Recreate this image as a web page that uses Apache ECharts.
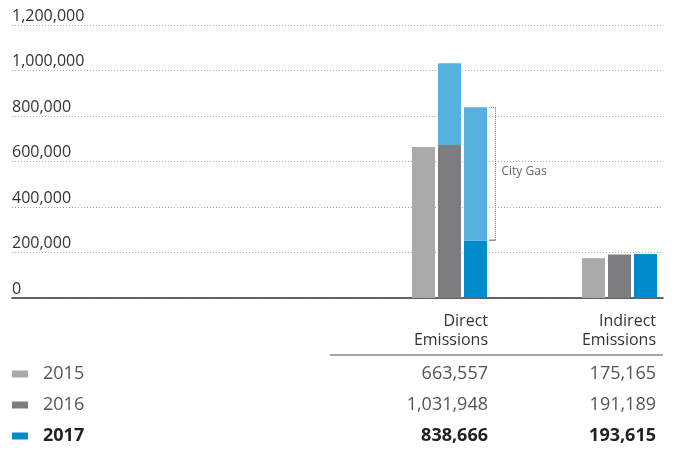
<!DOCTYPE html>
<html>
<head>
<meta charset="utf-8">
<script src="https://cdn.jsdelivr.net/npm/echarts@6/dist/echarts.min.js"></script>
<style>
html,body{margin:0;padding:0;background:#fff;}
#c{width:676px;height:452px;}
</style>
</head>
<body>
<div id="c"></div>
<script>
// ---- data ----
var categories = ['Direct Emissions', 'Indirect Emissions'];
var headerLabels = [['Direct', 'Emissions'], ['Indirect', 'Emissions']];
var years = ['2015', '2016', '2017'];
var directTotal = [663557, 1031948, 838666];
var indirect = [175165, 191189, 193615];
// direct emissions excluding city gas
var directNonGas = [663557, 672000, 252000];
var yTicks = [0, 200000, 400000, 600000, 800000, 1000000, 1200000];
var annotationLabel = 'City Gas';

var cityGas = directTotal.map(function (t, i) { return t - directNonGas[i]; });

var C15 = '#aaaaab', C16 = '#7d7d7f', C17 = '#008bcb', CGAS = '#56b1de';
var FONT = "'Open Sans', sans-serif";

var chart = echarts.init(document.getElementById('c'), null, {renderer: 'canvas'});

function fmt(v) { return v.toLocaleString('en-US'); }

var yMin = yTicks[0], yMax = yTicks[yTicks.length - 1], yInt = yTicks[1] - yTicks[0];

var barCommon = {type: 'bar', xAxisIndex: 1, yAxisIndex: 1, barWidth: 23, barGap: '13%', clip: false};

var option = {
  animation: false,
  backgroundColor: '#fff',
  grid: [
    {left: 12, right: 13, top: 25, bottom: 154, containLabel: false},
    {left: 449.5, right: 56.5, top: 25, bottom: 154, containLabel: false}
  ],
  xAxis: [
    {gridIndex: 0, type: 'value', min: 0, max: 1,
     axisLine: {show: true, lineStyle: {color: '#333', width: 1.5}},
     axisTick: {show: false}, axisLabel: {show: false}, splitLine: {show: false}},
    {gridIndex: 1, type: 'category', data: categories, boundaryGap: false,
     axisLine: {show: false}, axisTick: {show: false}, axisLabel: {show: false}, splitLine: {show: false}}
  ],
  yAxis: [
    {gridIndex: 0, type: 'value', min: yMin, max: yMax, interval: yInt,
     axisLine: {show: false}, axisTick: {show: false},
     axisLabel: {inside: true, margin: 0, align: 'left', verticalAlign: 'bottom',
       padding: [0, 0, 1, 0],
       fontFamily: FONT, fontSize: 16, color: '#333',
       formatter: function (v) { return fmt(v); }},
     splitLine: {show: true, lineStyle: {color: '#a8a8a8', type: [1, 2], width: 1}}},
    {gridIndex: 1, type: 'value', min: yMin, max: yMax, interval: yInt, show: false,
     splitLine: {show: false}}
  ],
  series: [
    Object.assign({name: '2015', stack: 's15', itemStyle: {color: C15},
     data: [directNonGas[0], indirect[0]]}, barCommon),
    Object.assign({name: '2016', stack: 's16', itemStyle: {color: C16},
     data: [directNonGas[1], indirect[1]]}, barCommon),
    Object.assign({name: '2016 City Gas', stack: 's16', itemStyle: {color: CGAS},
     data: [cityGas[1], null]}, barCommon),
    Object.assign({name: '2017', stack: 's17', itemStyle: {color: C17},
     data: [directNonGas[2], indirect[2]]}, barCommon),
    Object.assign({name: '2017 City Gas', stack: 's17', itemStyle: {color: CGAS},
     data: [cityGas[2], null]}, barCommon)
  ]
};
chart.setOption(option);

// ---- annotation & table (positions derived from the chart's scales) ----
var g = [];
var cx0 = chart.convertToPixel({xAxisIndex: 1, yAxisIndex: 1}, [categories[0], 0])[0];
var cx1 = chart.convertToPixel({xAxisIndex: 1, yAxisIndex: 1}, [categories[1], 0])[0];
var half = 23 * 1.5 + 3; // half of group width
var barRight = cx0 + half;
var yTop = chart.convertToPixel({xAxisIndex: 1, yAxisIndex: 1}, [categories[0], directTotal[2]])[1];
var yBot = chart.convertToPixel({xAxisIndex: 1, yAxisIndex: 1}, [categories[0], directNonGas[2]])[1];
var bx = barRight + 8.5;
var dotted = {stroke: '#777', lineWidth: 1, lineDash: [1, 1]};
g.push({type: 'line', shape: {x1: bx, y1: yTop, x2: bx, y2: yBot}, style: dotted, silent: true});
g.push({type: 'line', shape: {x1: barRight + 2, y1: yTop + 0.5, x2: bx, y2: yTop + 0.5}, style: dotted, silent: true});
g.push({type: 'line', shape: {x1: barRight + 2, y1: yBot - 0.5, x2: bx, y2: yBot - 0.5}, style: {stroke: '#555', lineWidth: 1}, silent: true});
g.push({type: 'text', x: bx + 6, y: (yTop + yBot) / 2 - 2, silent: true,
  style: {text: annotationLabel, fill: '#666', font: '12px ' + FONT, align: 'left', verticalAlign: 'middle'}});

// table
var colRight = [cx0 + half + 1, cx1 + half - 1];
var headY = [321, 340];
for (var c = 0; c < 2; c++) {
  for (var k = 0; k < 2; k++) {
    g.push({type: 'text', x: colRight[c], y: headY[k], silent: true,
      style: {text: headerLabels[c][k], fill: '#333', font: '16px ' + FONT, align: 'right', verticalAlign: 'middle'}});
  }
}
g.push({type: 'line', shape: {x1: 330, y1: 355, x2: 663, y2: 355}, style: {stroke: '#888', lineWidth: 1.5}, silent: true});
var rowY = [374, 405, 436];
var sq = [C15, C16, C17];
for (var r = 0; r < years.length; r++) {
  var bold = r === years.length - 1;
  var col = bold ? '#222' : '#555';
  var font = (bold ? 'bold ' : '') + '18px ' + FONT;
  g.push({type: 'rect', shape: {x: 12, y: rowY[r] - 3.5, width: 16, height: 7}, style: {fill: sq[r]}, silent: true});
  g.push({type: 'text', x: 43, y: rowY[r], silent: true,
    style: {text: years[r], fill: col, font: font, align: 'left', verticalAlign: 'middle'}});
  g.push({type: 'text', x: colRight[0], y: rowY[r], silent: true,
    style: {text: fmt(directTotal[r]), fill: col, font: font, align: 'right', verticalAlign: 'middle'}});
  g.push({type: 'text', x: colRight[1], y: rowY[r], silent: true,
    style: {text: fmt(indirect[r]), fill: col, font: font, align: 'right', verticalAlign: 'middle'}});
}
chart.setOption({graphic: g});
</script>
</body>
</html>
